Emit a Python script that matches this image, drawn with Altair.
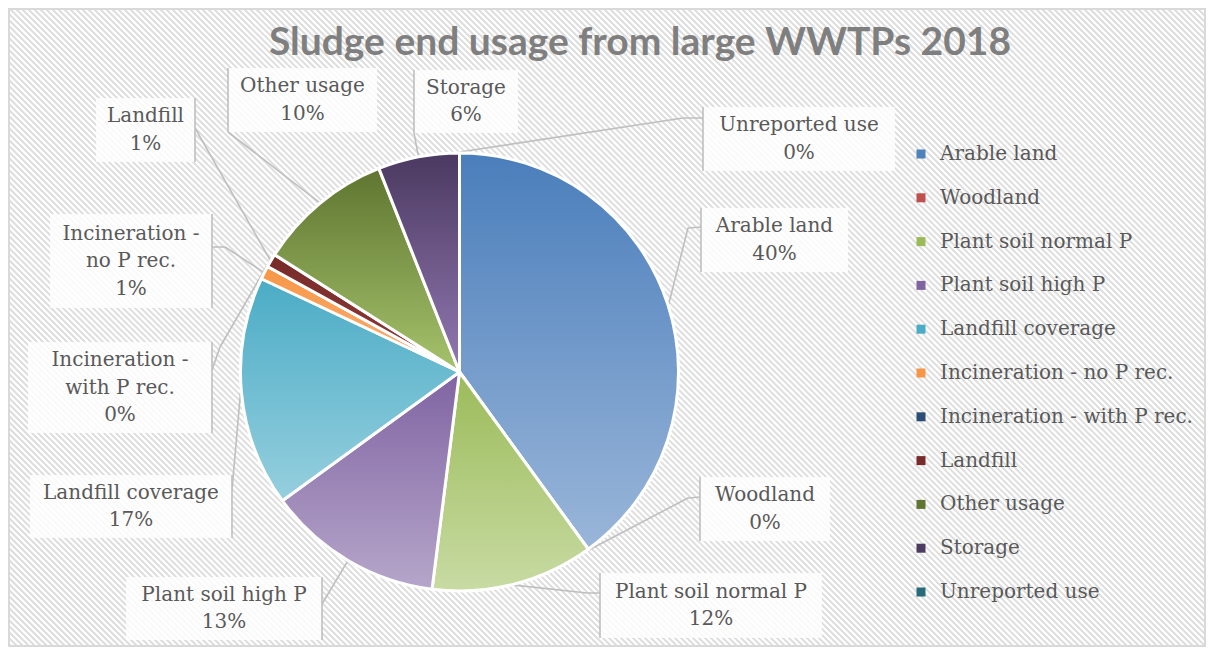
import math

import altair as alt
import pandas as pd

# ---- data -----------------------------------------------------------------
chart_title = "Sludge end usage from large WWTPs 2018"
categories = [
    "Arable land", "Woodland", "Plant soil normal P", "Plant soil high P",
    "Landfill coverage", "Incineration - no P rec.", "Incineration - with P rec.",
    "Landfill", "Other usage", "Storage", "Unreported use",
]
shares = [40, 0, 12, 13, 17, 1, 0, 1, 10, 6, 0]

# ---- styling --------------------------------------------------------------
legend_colors = [
    "#4f81bd", "#c0504d", "#9bbb59", "#8064a2", "#4bacc6", "#f79646",
    "#2c4d75", "#772c2a", "#5f7530", "#4d3b62", "#276a7c",
]
# vertical gradient (top colour, bottom colour) for each slice
slice_gradients = [
    ("#4a7ebb", "#9ab6d9"), ("#c0504d", "#d99694"), ("#9bbb59", "#c8dba3"),
    ("#8064a2", "#b6a6ca"), ("#4bacc6", "#96cfde"), ("#f79646", "#fab27a"),
    ("#2c4d75", "#4f81bd"), ("#772c2a", "#8f3a37"), ("#5f7530", "#a5c36c"),
    ("#4b3960", "#9279b2"), ("#276a7c", "#4bacc6"),
]

W, H = 1208, 650
CX, CY, R = 459.5, 372, 219
FONT = "DejaVu Serif"
TEXT_COLOR = "#595959"
LINE_COLOR = "#bfbfbf"
LINE_HEIGHT = 27.5

# label boxes: (x0, y0, x1, y1), side of the callout bar, y where the leader
# meets the bar, and the leader's bend offset (towards the pie, vertical)
label_layout = {
    "Arable land": ((701, 208, 848, 272), "left", 227, (13, 1)),
    "Woodland": ((700, 477, 830, 541), "left", 497, (12, 1)),
    "Plant soil normal P": ((600, 573, 822, 638), "left", 593, (13, 0)),
    "Plant soil high P": ((126, 577, 322, 640), "right", 604, (0, 0)),
    "Landfill coverage": ((30, 475, 232, 538), "right", 490, (0, 0)),
    "Incineration - no P rec.": ((50, 214, 212, 308), "right", 247, (13, 0)),
    "Incineration - with P rec.": ((28, 342, 212, 433), "right", 370, (8, -23)),
    "Landfill": ((96, 98, 195, 162), "right", 128, (0, 0)),
    "Other usage": ((228, 68, 377, 132), "left", 132, (0, 0)),
    "Storage": ((414, 70, 518, 133), "left", 133, (0, 0)),
    "Unreported use": ((703, 107, 895, 171), "left", 118, (20, 0)),
}

# ---- tables -----------------------------------------------------------------
pie_df = pd.DataFrame({"category": categories, "share": shares,
                       "idx": list(range(len(categories)))})

total = float(sum(shares))
boxes, bars, texts, leaders = [], [], [], []
cum = 0.0
for cat, val in zip(categories, shares):
    mid = (cum + val / 2.0) / total
    cum += val
    ang = 2 * math.pi * mid
    ax, ay = CX + (R + 1) * math.sin(ang), CY - (R + 1) * math.cos(ang)
    (x0, y0, x1, y1), side, attach, (bdx, bdy) = label_layout[cat]
    bar_x = x0 if side == "left" else x1
    sign = -1 if side == "left" else 1
    boxes.append({"category": cat, "x0": x0, "x1": x1, "y0": y0, "y1": y1})
    bars.append({"category": cat, "x": bar_x, "y0": y0, "y1": y1})
    label = f"{cat.replace(' - ', ' -' + chr(10))}\n{val}%"
    n_lines = label.count("\n") + 1
    # first line sits on y, so lift the block to centre it in the box
    ty = (y0 + y1) / 2 - (n_lines - 1) * LINE_HEIGHT / 2
    texts.append({"category": cat, "x": (x0 + x1) / 2, "y": ty, "label": label})
    pts = [(ax, ay), (bar_x + sign * bdx, attach + bdy), (bar_x, attach)]
    for k, (px, py) in enumerate(pts):
        leaders.append({"category": cat, "k": k, "x": px, "y": py})

boxes_df = pd.DataFrame(boxes)
bars_df = pd.DataFrame(bars)
texts_df = pd.DataFrame(texts)
leaders_df = pd.DataFrame(leaders)
single = pd.DataFrame({"title": [chart_title]})

# ---- background: frame with diagonal hatching -------------------------------
FX0, FY0, FX1, FY1 = 9, 9, 1205, 646
hatch = (
    alt.Chart(alt.sequence(start=-(FY1 - FY0) - 10, stop=FX1 + 10, step=6, as_="c"))
    .transform_calculate(
        xa=f"max(datum.c + {FY0}, {FX0})",
        xb=f"min(datum.c + {FY1}, {FX1})",
    )
    .transform_calculate(ya="datum.xa - datum.c", yb="datum.xb - datum.c")
    .transform_filter("datum.xa < datum.xb")
    .mark_rule(color="#dcdcdc", strokeWidth=1.8)
    .encode(
        x=alt.X("xa:Q", scale=None),
        x2="xb:Q",
        y=alt.Y("ya:Q", scale=None),
        y2="yb:Q",
    )
)
frame = alt.Chart(single).mark_rect(fill=None, stroke="#d9d9d9", strokeWidth=2).encode(
    x=alt.value(FX0), x2=alt.value(FX1), y=alt.value(FY0), y2=alt.value(FY1)
)

# ---- pie --------------------------------------------------------------------
theta = alt.Theta("share:Q", stack=True)
order = alt.Order("idx:Q", sort="ascending")

pie_base = alt.Chart(pie_df).mark_arc(radius=R).encode(
    theta=theta,
    order=order,
    x=alt.value(CX),
    y=alt.value(CY),
    color=alt.Color(
        "category:N",
        sort=categories,
        scale=alt.Scale(domain=categories, range=legend_colors),
        legend=alt.Legend(
            title=None, orient="none", legendX=911, legendY=144,
            symbolType="square", symbolSize=81, symbolStrokeWidth=0,
            labelFont=FONT, labelFontSize=20, labelColor=TEXT_COLOR,
            labelOffset=9, rowPadding=23.8, labelLimit=400,
        ),
    ),
)

fill_conditions = [
    {
        "test": f"datum.category === '{cat}'",
        "value": {
            "gradient": "linear", "x1": 0, "y1": 0, "x2": 0, "y2": 1,
            "stops": [{"offset": 0, "color": top}, {"offset": 1, "color": bottom}],
        },
    }
    for cat, (top, bottom) in zip(categories, slice_gradients)
]
pie_shaded = alt.Chart(pie_df).mark_arc(
    radius=R, stroke="white", strokeWidth=3, strokeJoin="round"
).encode(
    theta=theta,
    order=order,
    x=alt.value(CX),
    y=alt.value(CY),
    fill={"condition": fill_conditions, "value": "#cccccc"},
)

# ---- data labels ----------------------------------------------------------
label_boxes = alt.Chart(boxes_df).mark_rect(fill="white", fillOpacity=0.82).encode(
    x=alt.X("x0:Q", scale=None), x2="x1:Q",
    y=alt.Y("y0:Q", scale=None), y2="y1:Q",
)
label_bars = alt.Chart(bars_df).mark_rule(color=LINE_COLOR, strokeWidth=1.6).encode(
    x=alt.X("x:Q", scale=None),
    y=alt.Y("y0:Q", scale=None), y2="y1:Q",
)
leader_lines = alt.Chart(leaders_df).mark_line(
    color=LINE_COLOR, strokeWidth=1.6, strokeJoin="round"
).encode(
    x=alt.X("x:Q", scale=None),
    y=alt.Y("y:Q", scale=None),
    detail="category:N",
    order="k:Q",
)
label_text = alt.Chart(texts_df).mark_text(
    font=FONT, fontSize=20, color=TEXT_COLOR, lineBreak="\n", lineHeight=LINE_HEIGHT,
    align="center", baseline="middle",
).encode(
    x=alt.X("x:Q", scale=None),
    y=alt.Y("y:Q", scale=None),
    text="label:N",
)

title = alt.Chart(single).mark_text(
    font="Lato", fontWeight="bold", fontSize=39, color="#7f7f7f",
    align="center", baseline="alphabetic",
).encode(x=alt.value(640), y=alt.value(55), text="title:N")

chart = (
    alt.layer(
        hatch, frame, leader_lines, label_boxes, label_bars, pie_base, pie_shaded,
        label_text, title,
    )
    .properties(
        width=W, height=H, padding=0, background="white",
        autosize=alt.AutoSizeParams(type="none"),
    )
    .configure_view(stroke=None)
)

chart.save("out.html", embed_options={"renderer": "svg", "actions": False})
